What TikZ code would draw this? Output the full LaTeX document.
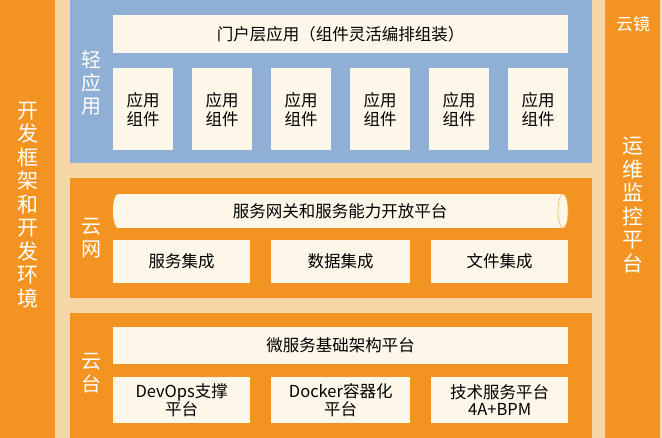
\documentclass[tikz,border=0pt]{standalone}
\usepackage{fontspec}
\setmainfont{Noto Sans CJK SC}
\usetikzlibrary{shapes.geometric}
\definecolor{bgc}{HTML}{F8D7A6}
\definecolor{org}{HTML}{F39422}
\definecolor{blu}{HTML}{8FAFD4}
\definecolor{crm}{HTML}{FDF7E9}
\tikzset{
 panel/.style={draw=none,inner sep=0,anchor=north west},
 cbox/.style={fill=crm,draw=none,inner sep=0,anchor=north west,align=center,font=\fontsize{16.5}{19}\selectfont,text=black},
 vlab/.style={text=white,align=center,font=\fontsize{20}{23}\selectfont},
}
\begin{document}
\begin{tikzpicture}[x=1pt,y=-1pt]
\fill[bgc] (0,0) rectangle (662,438);
\useasboundingbox (0,0) rectangle (662,438);
\node[panel,fill=org,minimum width=55,minimum height=438] (left) at (0,0) {};
\node[vlab,font=\fontsize{21}{23.5}\selectfont] (lefttxt) at (28,205) {开\\发\\框\\架\\和\\开\\发\\环\\境};
\node[panel,fill=org,minimum width=55,minimum height=438] (right) at (605,0) {};
\node[vlab,font=\fontsize{17}{20}\selectfont] (yj) at (633,24) {云镜};
\node[vlab,font=\fontsize{21}{23.5}\selectfont] (yw) at (633,205) {运\\维\\监\\控\\平\\台};
% light app
\node[panel,fill=blu,minimum width=522,minimum height=163] (p1) at (70,0) {};
\node[vlab] (l1) at (91,83) {轻\\应\\用};
\node[cbox,minimum width=455,minimum height=38] (portal) at (113,15) {门户层应用（组件灵活编排组装）};
\foreach \i/\x in {1/113,2/192,3/271,4/350,5/429,6/508}{
 \node[cbox,minimum width=60,minimum height=82] (c\i) at (\x,68) {应用\\组件};
}
% cloud net
\node[panel,fill=org,minimum width=522,minimum height=120] (p2) at (70,178) {};
\node[vlab] (l2) at (91,238) {云\\网};
\fill[crm] (118,194) rectangle (563,228);
\fill[crm] (118,211) ellipse (5 and 17);
\filldraw[fill=crm,draw=org!70,line width=0.6] (563,211) ellipse (5 and 17);
\node[font=\fontsize{16.5}{19}\selectfont] (gw) at (340,211) {服务网关和服务能力开放平台};
\node[cbox,minimum width=137,minimum height=43] (s1) at (113,240) {服务集成};
\node[cbox,minimum width=139,minimum height=43] (s2) at (271,240) {数据集成};
\node[cbox,minimum width=137,minimum height=43] (s3) at (431,240) {文件集成};
% cloud platform
\node[panel,fill=org,minimum width=522,minimum height=125] (p3) at (70,313) {};
\node[vlab] (l3) at (91,373) {云\\台};
\node[cbox,minimum width=455,minimum height=37] (ms) at (113,327) {微服务基础架构平台};
\node[cbox,minimum width=137,minimum height=46,font=\fontsize{16.5}{17.5}\selectfont] (b1) at (113,377) {DevOps支撑\\平台};
\node[cbox,minimum width=139,minimum height=46,font=\fontsize{16.5}{17.5}\selectfont] (b2) at (271,377) {Docker容器化\\平台};
\node[cbox,minimum width=137,minimum height=46,font=\fontsize{16.5}{17.5}\selectfont] (b3) at (431,377) {技术服务平台\\4A+BPM};
\end{tikzpicture}
\end{document}
